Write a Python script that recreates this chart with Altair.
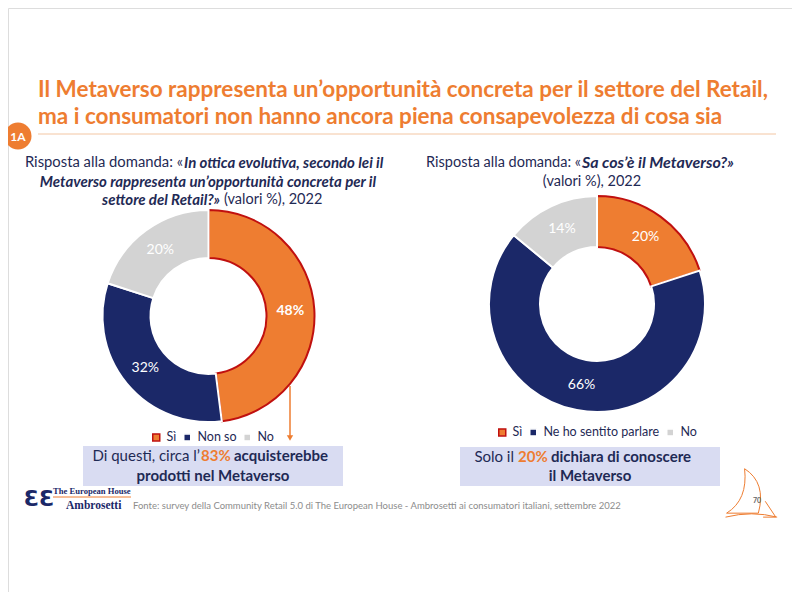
import altair as alt
import pandas as pd

# ---- data ----
cats1 = ["Sì", "Non so", "No"]
vals1 = [48, 32, 20]
cats2 = ["Sì", "Ne ho sentito parlare", "No"]
vals2 = [20, 66, 14]

title_lines = [
    "Il Metaverso rappresenta un’opportunità concreta per il settore del Retail,",
    "ma i consumatori non hanno ancora piena consapevolezza di cosa sia",
]
fonte = ("Fonte: survey della Community Retail 5.0 di The European House - "
         "Ambrosetti ai consumatori italiani, settembre 2022")

# ---- styles ----
ORANGE = "#EE7D31"
NAVY = "#1B2868"
TXT = "#1F2A55"
GREY = "#D3D3D3"
FILL_COLORS = [ORANGE, NAVY, GREY]
STROKE_COLORS = ["#C0100F", "#FFFFFF", "#FFFFFF"]
BODY = "Lato"
SERIF = "Liberation Serif, DejaVu Serif"

one = pd.DataFrame({"k": [0]})


def P(v):
    return v - 8  # page px -> chart px


def txt(s, x, y, size, color=TXT, weight="normal", style="normal",
        align="left", font=BODY, baseline="middle"):
    return alt.Chart(one).mark_text(
        text=s, fontSize=size, color=color, fontWeight=weight,
        fontStyle=style, align=align, baseline=baseline, font=font
    ).encode(x=alt.value(P(x)), y=alt.value(P(y)))


def donut(cats, vals, cx, cy, r_out, r_in, lx, ly):
    df = pd.DataFrame({"cat": cats, "val": vals, "idx": list(range(len(cats)))})
    base = alt.Chart(df)
    leg = dict(orient="none", legendX=P(lx), legendY=P(ly), direction="horizontal",
               title=None, symbolType="square", symbolSize=49, labelFontSize=12.5,
               labelColor=TXT, labelFont=BODY, columnPadding=3,
               symbolStrokeWidth=1.5, labelOffset=4)
    arc = base.mark_arc(outerRadius=r_out, innerRadius=r_in, strokeWidth=2).encode(
        theta=alt.Theta("val:Q", stack=True),
        order=alt.Order("idx:Q"),
        color=alt.Color("cat:N", scale=alt.Scale(domain=cats, range=FILL_COLORS),
                        legend=alt.Legend(**leg)),
        stroke=alt.Stroke("cat:N", scale=alt.Scale(domain=cats, range=STROKE_COLORS),
                          legend=alt.Legend(**leg)),
        x=alt.value(P(cx)), y=alt.value(P(cy)),
    )
    lab = base.transform_window(
        cum="sum(val)", sort=[alt.SortField("idx")], frame=[None, 0]
    ).transform_calculate(
        mid="datum.cum - datum.val / 2", label="datum.val + '%'"
    )
    rm = (r_out + r_in) / 2
    return arc, lab, rm


arc1, lab1, rm1 = donut(cats1, vals1, 208.5, 316, 106, 58, 150, 431)
arc2, lab2, rm2 = donut(cats2, vals2, 496, 304, 108, 57, 496, 426)
arc2, lab2, rm2 = donut(cats2, vals2, 597, 304, 108, 57, 496, 426)

tenc1 = dict(theta=alt.Theta("mid:Q", scale=alt.Scale(domain=[0, 100])),
             text="label:N", x=alt.value(P(208.5)), y=alt.value(P(316)))
tenc2 = dict(theta=alt.Theta("mid:Q", scale=alt.Scale(domain=[0, 100])),
             text="label:N", x=alt.value(P(597)), y=alt.value(P(304)))

labels1_bold = lab1.transform_filter("datum.idx == 0").mark_text(
    radius=rm1, fontSize=14, fontWeight="bold", color="white", font=BODY).encode(**tenc1)
labels1 = lab1.transform_filter("datum.idx != 0").mark_text(
    radius=rm1, fontSize=14, color="white", font=BODY).encode(**tenc1)
labels2 = lab2.mark_text(radius=rm2, fontSize=14, color="white", font=BODY).encode(**tenc2)

# ---- decorations ----
title1 = txt(title_lines[0], 38, 97, 22.5, ORANGE, "bold", baseline="alphabetic")
title2 = txt(title_lines[1], 38, 124, 22.5, ORANGE, "bold", baseline="alphabetic")
title_rule = alt.Chart(one).mark_rule(color="#F3C6A3", strokeWidth=1).encode(
    x=alt.value(P(38)), x2=alt.value(P(776)), y=alt.value(P(134)))
badge = alt.Chart(one).mark_point(shape="circle", filled=True, size=729,
                                  color=ORANGE, opacity=1).encode(
    x=alt.value(P(18)), y=alt.value(P(136)))
badge_t = txt("1A", 18, 137, 12, "white", "bold", align="center")

# left subtitle
s1a = txt("Risposta alla domanda: «", 183, 163, 14.8, align="right")
s1b = txt("In ottica evolutiva, secondo lei il", 184, 163, 15, weight="bold", style="italic")
s1c = txt("Metaverso rappresenta un’opportunità concreta per il", 208, 182, 15,
          weight="bold", style="italic", align="center")
s1d = txt("settore del Retail?»", 220, 200, 15, weight="bold", style="italic", align="right")
s1e = txt("(valori %), 2022", 224, 200, 14.5)

# right subtitle
s2a = txt("Risposta alla domanda: «", 581, 163, 14.5, align="right")
s2b = txt("Sa cos’è il Metaverso?»", 582, 163, 16, weight="bold", style="italic")
s2c = txt("(valori %), 2022", 592, 182, 14.5, align="center")

# boxes
BOX = "#D9DCF2"
box1 = alt.Chart(one).mark_rect(color=BOX).encode(
    x=alt.value(P(83)), x2=alt.value(P(343)), y=alt.value(P(446)), y2=alt.value(P(486)))
box2 = alt.Chart(one).mark_rect(color=BOX).encode(
    x=alt.value(P(460)), x2=alt.value(P(720)), y=alt.value(P(447)), y2=alt.value(P(486)))

# arrow
arrow = alt.Chart(one).mark_rule(color=ORANGE, strokeWidth=1.5).encode(
    x=alt.value(P(290)), y=alt.value(P(386)), y2=alt.value(P(436)))
arrow_head = alt.Chart(one).mark_point(shape="triangle-down", filled=True, size=40,
                                       color=ORANGE, opacity=1).encode(
    x=alt.value(P(290)), y=alt.value(P(438)))

b1a = txt("Di questi, circa l’", 200, 456, 15, align="right")
b1b = txt("83%", 201, 456, 15, ORANGE, "bold")
b1c = txt("acquisterebbe", 234, 456, 15, weight="bold")
b1d = txt("prodotti nel Metaverso", 213, 476, 15, weight="bold", align="center")

b2a = txt("Solo il", 514, 457, 15, align="right")
b2b = txt("20%", 518, 457, 15, ORANGE, "bold")
b2c = txt("dichiara di conoscere", 551, 457, 15, weight="bold")
b2d = txt("il Metaverso", 590, 476, 15, weight="bold", align="center")

# footer
logo_icon = txt("ƐƐ", 39, 499, 22, NAVY, "bold", align="center", font="DejaVu Sans")
logo1 = txt("The European House", 53, 491, 8.6, NAVY, "bold", font=SERIF)
logo_rule = alt.Chart(one).mark_rule(color=ORANGE, strokeWidth=1).encode(
    x=alt.value(P(53)), x2=alt.value(P(131)), y=alt.value(P(497)))
logo2 = txt("Ambrosetti", 66, 506, 11.5, NAVY, "bold", font=SERIF)
fonte_t = txt(fonte, 133, 506, 9.5, "#8C8C8C")

SAIL = ("M -0.28 -0.88 Q 0.55 -0.35 0.24 0.8 L -0.96 0.8 Q -0.15 0.3 -0.28 -0.88 Z "
        "M -1 0.95 Q 0 0.7 0.95 0.95 M 0.5 0.35 L 0.9 0.95 L 0.42 0.95")
sail = alt.Chart(one).mark_point(shape=SAIL, size=2800, filled=False, color=ORANGE,
                                 strokeWidth=1, opacity=1).encode(
    x=alt.value(P(752)), y=alt.value(P(492)))
page_no = txt("70", 757, 501, 7, "#666666", "bold", align="center")

chart = alt.layer(
    title1, title2, title_rule, badge, badge_t,
    s1a, s1b, s1c, s1d, s1e, s2a, s2b, s2c,
    arc1, labels1, labels1_bold, arc2, labels2,
    box1, box2, arrow, arrow_head,
    b1a, b1b, b1c, b1d, b2a, b2b, b2c, b2d,
    logo_icon, logo1, logo_rule, logo2, fonte_t, sail, page_no,
).resolve_scale(
    theta="independent", color="independent", stroke="independent"
).properties(
    width=784, height=584, padding=0,
    autosize=alt.AutoSizeParams(type="none"), background="white"
).configure_view(stroke=None).configure(font=BODY)

chart.save("out.html", embed_options={"renderer": "svg", "actions": False})
